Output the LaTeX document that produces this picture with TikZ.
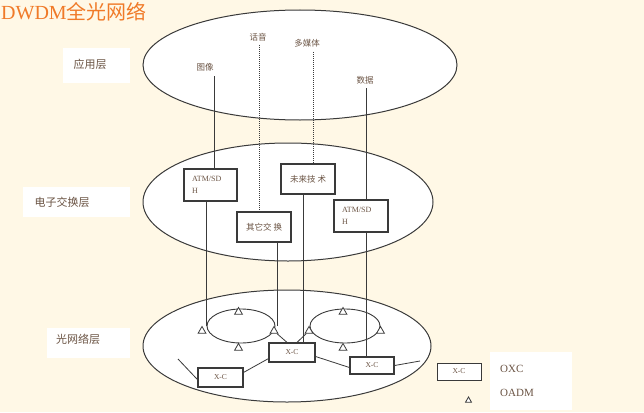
\documentclass[tikz,border=0pt]{standalone}
\usepackage{fontspec}
\setmainfont{Liberation Serif}
\newfontfamily\cjk{Noto Sans CJK SC}
\usetikzlibrary{shapes.geometric}
\definecolor{bg}{HTML}{FFF8E6}
\definecolor{txt}{HTML}{6B5444}
\definecolor{ln}{HTML}{3A3A3A}
\definecolor{ttl}{HTML}{F07A28}
\begin{document}
\begin{tikzpicture}[x=1pt,y=-1pt,
  layer/.style={ellipse, draw=ln, line width=1pt, fill=white, inner sep=0pt},
  ring/.style={ellipse, draw=ln, line width=0.9pt, inner sep=0pt, minimum height=34pt},
  lbox/.style={rectangle, draw=ln, line width=1.2pt, fill=white, inner sep=0pt, text=txt},
  tri/.style={regular polygon, regular polygon sides=3, draw=ln, fill=white, line width=0.8pt, minimum size=9pt, inner sep=0pt},
  layerlab/.style={inner sep=0pt, text=txt, font=\cjk\fontsize{11}{13}\selectfont},
  toplab/.style={inner sep=0pt, text=txt, font=\cjk\fontsize{8.5}{10}\selectfont},
  conn/.style={draw=ln, line width=0.8pt},
  dotconn/.style={draw=ln, line width=0.9pt, dash pattern=on 1pt off 1pt},
  xcfont/.style={font=\fontsize{7.5}{9}\selectfont}
]
\fill[bg] (0,0) rectangle (644,412);
\useasboundingbox (0,0) rectangle (644,412);

% white patches behind labels
\fill[white] (63,48) rectangle (130,83);
\fill[white] (23,187) rectangle (130,217);
\fill[white] (47,328) rectangle (130,358);
\fill[white] (490,352) rectangle (572,410);

% title
\node[anchor=west, inner sep=0pt, text=ttl, font=\fontsize{20}{22}\selectfont] (title) at (1,12) {DWDM{\cjk 全光网络}};

% layers
\node[layer, minimum width=314pt, minimum height=110pt] (L1) at (300,65) {};
\node[layer, minimum width=290pt, minimum height=118pt] (L2) at (288,202) {};
\node[layer, minimum width=288pt, minimum height=112pt] (L3) at (287,346) {};

% layer labels
\node[layerlab] (n1) at (90,64) {应用层};
\node[layerlab] (n2) at (62,202) {电子交换层};
\node[layerlab] (n3) at (78,339) {光网络层};

% application labels
\node[toplab] (img) at (205,67) {图像};
\node[toplab] (hy) at (258,37) {话音};
\node[toplab] (mm) at (307,43) {多媒体};
\node[toplab] (sj) at (365,80) {数据};

\coordinate (imgTop) at (214,76);
\coordinate (hyTop) at (259,45);
\coordinate (mmTop) at (313,52);
\coordinate (sjTop) at (366,88);

% switching boxes
\node[lbox, minimum width=53pt, minimum height=32pt, align=left, text width=37pt, font=\fontsize{8}{12}\selectfont] (atmL) at (210.5,185) {ATM/SD\\H};
\node[lbox, minimum width=54pt, minimum height=30pt, font=\cjk\fontsize{8.5}{10}\selectfont] (qita) at (264,227) {其它交\hspace{2pt}换};
\node[lbox, minimum width=54pt, minimum height=30pt, font=\cjk\fontsize{8.5}{10}\selectfont] (wl) at (308,179) {未来技\hspace{2pt}术};
\node[lbox, minimum width=54pt, minimum height=32pt, align=left, text width=38pt, font=\fontsize{8}{12}\selectfont] (atmR) at (361,216) {ATM/SD\\H};

% rings
\node[ring, minimum width=68pt] (ringL) at (241,326) {};
\node[ring, minimum width=70pt] (ringR) at (345,326) {};

% OADM triangles
\node[tri] (tL1) at (202,331) {};
\node[tri] (tL2) at (238.5,312) {};
\node[tri] (tL3) at (274,331) {};
\node[tri] (tL4) at (238.5,348) {};
\node[tri] (tR1) at (309,331) {};
\node[tri] (tR2) at (343,312) {};
\node[tri] (tR3) at (380.5,331) {};
\node[tri] (tR4) at (343,348) {};

% OXC boxes
\node[lbox, xcfont, minimum width=46pt, minimum height=19pt] (xcC) at (292,352.5) {X-C};
\node[lbox, xcfont, minimum width=45pt, minimum height=19pt] (xcL) at (220.5,377.5) {X-C};
\node[lbox, xcfont, minimum width=44pt, minimum height=17pt] (xcR) at (372,365.5) {X-C};

\coordinate (eL) at (178,359);
\coordinate (eR) at (420,361);

% connectors top -> middle
\draw[conn] (imgTop) -- (imgTop |- atmL.north);
\draw[dotconn] (hyTop) -- (hyTop |- qita.north);
\draw[dotconn] (mmTop) -- (mmTop |- wl.north);
\draw[conn] (sjTop) -- (sjTop |- atmR.north);

% connectors middle -> optical
\draw[conn] (ringL.west |- atmL.south) -- (ringL.west);
\draw[conn] ([xshift=2pt]ringL.east |- qita.south) -- ([xshift=2pt]ringL.east);
\draw[conn] ([xshift=-5pt]wl.south) -- ([xshift=-5pt]wl.south |- xcC.north);
\draw[conn] ([xshift=5pt]atmR.south) -- ([xshift=5pt]atmR.south |- xcR.north);

% optical network links
\draw[conn] ([xshift=-5pt]xcC.north) -- (tL3);
\draw[conn] ([xshift=5pt]xcC.north) -- (tR1);
\draw[conn] ([yshift=-5pt]xcL.north east) -- ([yshift=4pt]xcC.south west);
\draw[conn] ([yshift=-4pt]xcC.east) -- ([yshift=-2pt]xcR.west);
\draw[conn] (xcR.east) -- (eR);
\draw[conn] ([yshift=-2pt]xcL.west) -- (eL);

% legend
\node[lbox, xcfont, minimum width=44pt, minimum height=17pt, line width=1pt] (lgxc) at (459,371.5) {X-C};
\node[tri, minimum size=7pt] (lgtri) at (468.5,400.5) {};
\node[anchor=west, inner sep=0pt, text=txt, font=\fontsize{11}{13}\selectfont] (lgoxc) at (500,369) {OXC};
\node[anchor=west, inner sep=0pt, text=txt, font=\fontsize{11}{13}\selectfont] (lgoadm) at (500,393) {OADM};
\end{tikzpicture}
\end{document}
